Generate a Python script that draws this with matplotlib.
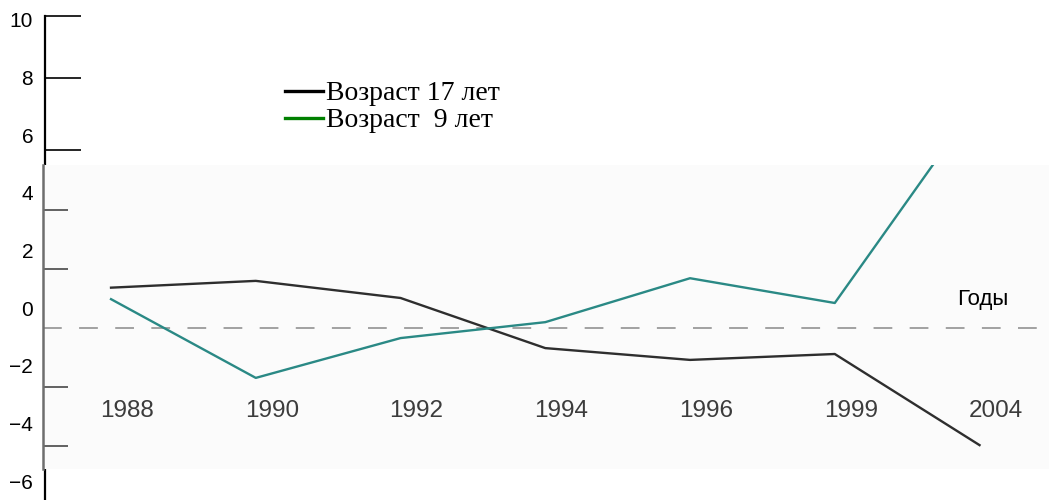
import matplotlib
matplotlib.use("Agg")
import matplotlib.pyplot as plt
from matplotlib.lines import Line2D

# -------------------------------
# Data
# -------------------------------
years = ["1988", "1990", "1992", "1994", "1996", "1999", "2004"]
age17 = [1.37, 1.60, 1.02, -0.68, -1.08, -0.88, -3.97]
age9 = [0.98, -1.69, -0.34, 0.20, 1.69, 0.85, 7.76]

outer_labels = [10, 8, 6, 4, 2, 0, -2, -4, -6]
outer_marks = [10.12, 7.97, 5.48]
inner_marks = [4, 2, -2, -4]

legend_labels = ["Возраст 17 лет", "Возраст  9 лет"]
legend_colors = ["#000000", "#008000"]

plt.rcParams["lines.scale_dashes"] = False

W, H = 1049, 500
fig = plt.figure(figsize=(W / 100, H / 100), dpi=100)

# -------------------------------
# Outer axis (labels + black ticks)
# -------------------------------
ax0 = fig.add_axes([45 / W, 0, 1 - 45 / W, 1])
ax0.set_xlim(0, 1)
ax0.set_ylim(-6.65, 10.68)
for s in ["top", "right", "bottom"]:
    ax0.spines[s].set_visible(False)
ax0.spines["left"].set_bounds(-6.65, 10.12)
ax0.spines["left"].set_linewidth(1.6)
ax0.set_xticks([])
ax0.set_yticks(outer_labels)
ax0.set_yticklabels([str(v).replace("-", "\u2212") for v in outer_labels],
                    fontsize=15, family="Liberation Sans")
ax0.tick_params(axis="y", which="major", length=0, pad=8.5)
ax0.set_yticks(outer_marks, minor=True)
ax0.tick_params(axis="y", which="minor", direction="in", length=26,
                width=1.2, color="black")

# -------------------------------
# Inner chart (grey panel)
# -------------------------------
ax = fig.add_axes([43 / W, (H - 469) / H, 1 - 43 / W, (469 - 165) / H])
ax.set_facecolor("#fbfbfb")
ax.set_xlim(-0.47, 6.48)
ax.set_ylim(-4.78, 5.53)
for s in ["top", "right", "bottom"]:
    ax.spines[s].set_visible(False)
ax.spines["left"].set_color("#6e6e6e")
ax.spines["left"].set_linewidth(1.8)
ax.set_xticks([])
ax.set_yticks(inner_marks)
ax.set_yticklabels([])
ax.tick_params(axis="y", direction="in", length=18, width=1.3, color="#555555")

ax.axhline(0, color="#9a9a9a", lw=1.3, dashes=(13.5, 12.5))

x = list(range(len(years)))
ax.plot(x, age17, color="#2e2e2e", lw=1.7)
ax.plot(x, age9, color="#2a8985", lw=1.7)

for i, yr in enumerate(years):
    ax.text(i + 0.11, -2.81, yr, ha="center", va="center", fontsize=17.5,
            color="#3c3c3c", family="Liberation Sans")

fig.text(983 / W, 1 - 300 / H, "Годы", ha="center", va="center",
         fontsize=16, family="Liberation Sans")

# -------------------------------
# Legend
# -------------------------------
handles = [Line2D([0], [0], color=c, lw=2.4) for c in legend_colors]
fig.legend(handles, legend_labels, loc="upper left",
           bbox_to_anchor=(285 / W, 1 - 81 / H), frameon=False,
           prop={"family": "Liberation Serif", "size": 20},
           handlelength=1.38, handletextpad=0.1, labelspacing=0.05,
           borderpad=0, borderaxespad=0)

fig.savefig("out.png", dpi=100)
